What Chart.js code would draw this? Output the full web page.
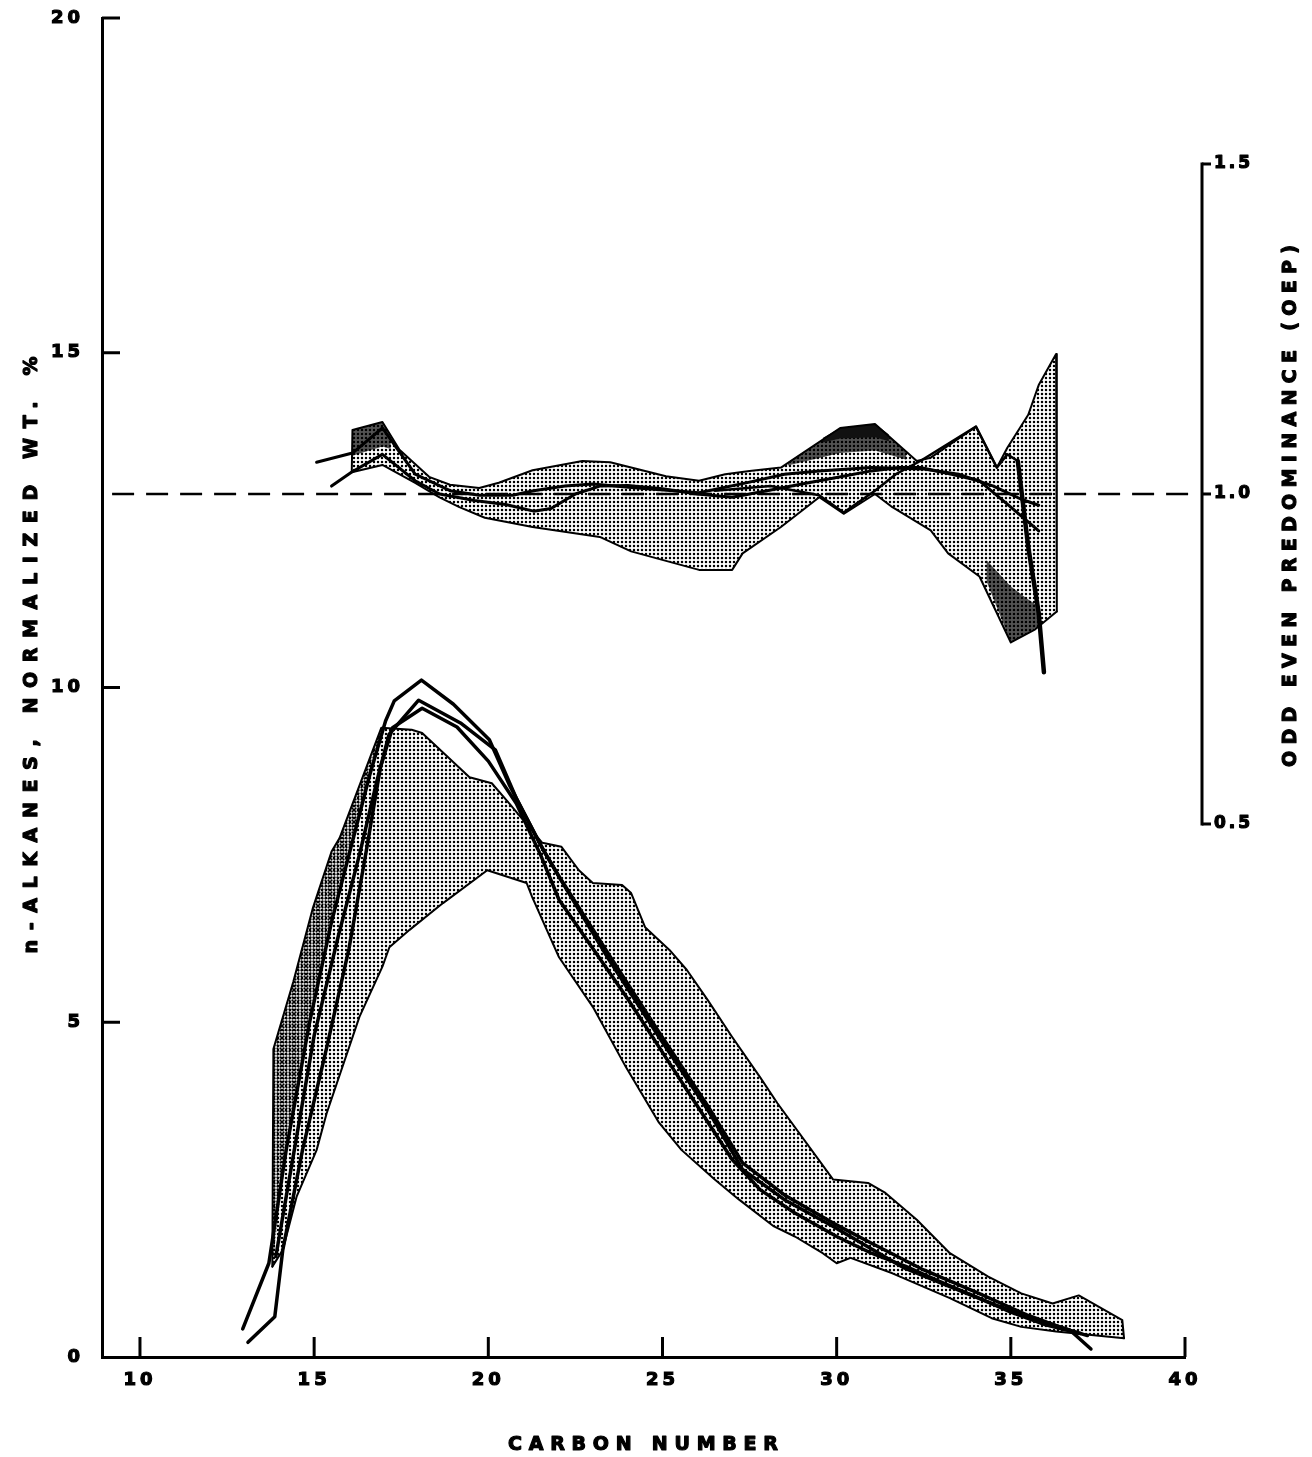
<!DOCTYPE html>
<html><head><meta charset="utf-8">
<script src="https://cdn.jsdelivr.net/npm/chart.js@4.4.1/dist/chart.umd.min.js"></script>
<style>html,body{margin:0;padding:0;background:#fff}#wrap{width:1312px;height:1457px;position:relative}</style>
</head><body><div id="wrap"><canvas id="c"></canvas></div>
<script>
// ---------- tick labels / axes ----------
const xTicks = [10, 15, 20, 25, 30, 35, 40];
const yTicks = [0, 5, 10, 15, 20];
const oepTicks = [0.5, 1.0, 1.5];
const xTitle = 'CARBON NUMBER';
const yTitle = 'n-ALKANES, NORMALIZED WT. %';
const y2Title = 'ODD EVEN PREDOMINANCE (OEP)';

// ---------- n-alkane distribution (left axis) ----------
const lowBandTopC = [13.8,13.83,14.4,14.96,15.5,15.73,16.93,17.8,18.1,19.46,20.1,20.6,21.55,22.1,22.6,23.0,23.84,24.1,24.5,25.2,25.7,26.3,27.0,27.8,28.3,29.9,30.9,31.4,32.3,33.25,34.35,35.3,36.2,36.95,38.2,38.25];
const lowBandTopV = [1.35,4.6,5.6,6.7,7.55,7.75,9.4,9.37,9.32,8.66,8.57,8.27,7.68,7.62,7.27,7.08,7.05,6.93,6.42,6.08,5.78,5.33,4.78,4.18,3.79,2.65,2.6,2.45,2.05,1.55,1.2,0.95,0.8,0.92,0.55,0.28];
const lowBandBotC = [13.8,14.1,14.5,15.07,15.36,16.3,16.96,17.16,17.74,18.7,19.97,21.1,21.26,22.03,23.0,23.95,24.9,25.55,26.5,27.2,28.2,28.8,29.6,30.0,30.4,31.6,33.25,34.45,35.3,36.3,38.25];
const lowBandBotV = [1.35,1.6,2.4,3.09,3.64,5.08,5.83,6.12,6.38,6.78,7.27,7.08,6.87,5.97,5.23,4.33,3.5,3.09,2.65,2.35,1.95,1.8,1.55,1.4,1.48,1.25,0.88,0.58,0.45,0.38,0.28];
const lowDarkTopC = [13.8,13.83,14.4,14.96,15.5,15.73,16.93];
const lowDarkTopV = [1.35,4.6,5.6,6.7,7.55,7.75,9.4];
const lowDarkBotC = [13.8,14.2,14.87,15.5,16.0,16.6,16.93];
const lowDarkBotV = [1.35,3.1,5.0,6.5,7.5,8.7,9.3];

const lineAC = [12.95,13.7,14.2,14.87,15.5,16.0,16.6,17.05,17.3,18.08,19.0,20.03,20.6,21.5,22.03,23.47,24.9,26.3,27.3,28.5,29.9,31.9,33.25,34.55,35.8,36.7,37.3];
const lineAV = [0.42,1.4,3.1,5.0,6.5,7.5,8.7,9.5,9.8,10.11,9.75,9.22,8.55,7.65,7.17,5.93,4.78,3.69,2.8,2.35,1.95,1.34,1.05,0.78,0.55,0.4,0.12];
const lineBC = [13.1,13.87,14.1,14.67,15.35,16.0,16.5,16.9,17.25,18.1,19.1,20.0,20.8,21.5,22.03,23.0,24.0,25.0,26.0,27.0,27.8,28.8,30.0,31.0,32.0,33.0,34.0,35.0,36.0,37.0];
const lineBV = [0.22,0.6,1.6,3.1,4.6,6.1,7.57,8.8,9.4,9.69,9.41,8.9,8.27,7.5,6.83,6.1,5.35,4.55,3.75,2.95,2.5,2.15,1.8,1.55,1.35,1.12,0.9,0.67,0.48,0.35];
const lineCC = [13.9,14.4,15.0,15.7,16.3,16.8,17.15,18.0,19.2,20.2,20.8,21.6,22.1,23.5,24.9,26.3,27.3,28.5,29.9,31.0,32.5,34.0,35.5,36.5,37.2];
const lineCV = [1.5,3.0,4.8,6.3,7.5,8.6,9.3,9.81,9.47,9.07,8.35,7.55,7.12,5.98,4.85,3.75,2.9,2.42,2.0,1.7,1.3,0.97,0.62,0.43,0.32];

// ---------- odd-even predominance (right axis) ----------
const oepRefC = [9.2, 40.3];
const oepRefV = [1.0, 1.0];
const oepBandTopC = [16.08,16.1,16.96,17.45,18.3,18.9,19.74,20.3,21.27,22.7,23.5,25.1,26.05,26.8,27.5,28.4,30.1,31.1,32.3,32.7,34.0,34.6,34.9,35.5,35.8,36.3,36.32];
const oepBandTopV = [1.033,1.097,1.109,1.067,1.026,1.014,1.009,1.017,1.036,1.05,1.048,1.027,1.02,1.03,1.035,1.04,1.1,1.106,1.05,1.055,1.102,1.04,1.07,1.12,1.165,1.212,0.822];
const oepBandBotC = [16.08,16.96,17.9,18.6,19.17,19.9,21.27,23.2,24.1,26.05,27.0,27.3,28.4,29.5,30.2,31.1,31.6,32.7,33.2,34.1,35.0,35.7,36.32];
const oepBandBotV = [1.033,1.044,1.017,0.995,0.98,0.964,0.95,0.935,0.913,0.885,0.885,0.91,0.95,0.995,0.97,1.0,0.98,0.945,0.91,0.875,0.775,0.795,0.822];
const oepDark1TopC = [16.1,16.96,17.2];
const oepDark1TopV = [1.097,1.109,1.09];
const oepDark1BotC = [16.1,16.96,17.2];
const oepDark1BotV = [1.058,1.072,1.068];
const oepDark2TopC = [28.6,30.1,31.1,32.0];
const oepDark2TopV = [1.048,1.1,1.106,1.063];
const oepDark2BotC = [28.6,30.1,31.1,32.0];
const oepDark2BotV = [1.043,1.062,1.066,1.052];
const oepCoreTopC = [29.6,30.1,31.1,31.5];
const oepCoreTopV = [1.085,1.1,1.106,1.09];
const oepCoreBotC = [29.6,30.1,31.1,31.5];
const oepCoreBotV = [1.078,1.084,1.086,1.08];
const oepDark3TopC = [34.3,35.0,35.5,35.8];
const oepDark3TopV = [0.9,0.86,0.84,0.83];
const oepDark3BotC = [34.3,35.0,35.5,35.8];
const oepDark3BotV = [0.868,0.775,0.79,0.80];
const oepLine1C = [15.07,16.1,16.96,17.9,18.9,19.74,20.7,21.3,22.2,23.0,24.1,26.05,27.5,28.5,29.5,31.0,32.5,33.5,34.5,35.3,35.8];
const oepLine1V = [1.048,1.062,1.1,1.03,1.005,0.998,0.998,1.005,1.012,1.015,1.01,1.002,1.018,1.03,1.035,1.04,1.038,1.03,1.012,0.992,0.983];
const oepLine2C = [15.5,16.07,16.96,17.9,18.6,19.6,20.5,21.3,21.8,22.5,23.2,24.0,25.0,26.0,27.0,28.0,29.0,30.0,31.0,31.8,32.4,33.3,34.1,35.0,35.8];
const oepLine2V = [1.012,1.033,1.06,1.02,1.0,0.99,0.984,0.974,0.978,1.0,1.012,1.013,1.008,1.0,0.995,1.005,1.015,1.025,1.035,1.04,1.04,1.03,1.02,0.98,0.944];
const oepLine3C = [26.5,28.1,29.5,30.2,31.1,31.7,32.4,34.0,34.6,34.9,35.2];
const oepLine3V = [1.005,1.012,0.998,0.972,1.005,1.03,1.05,1.102,1.04,1.06,1.05];
const oepLine4C = [35.2,35.5,35.8,35.95];
const oepLine4V = [1.05,0.92,0.82,0.73];

// ---------- helpers ----------
const pts = (cs, vs) => cs.map((c, i) => ({x: c, y: vs[i]}));
const canvas = document.getElementById('c');
function dotPattern(period, r) {
  const c = document.createElement('canvas');
  c.width = c.height = period;
  const g = c.getContext('2d');
  g.fillStyle = '#000';
  g.beginPath(); g.arc(period / 2, period / 2, r, 0, Math.PI * 2); g.fill();
  return canvas.getContext('2d').createPattern(c, 'repeat');
}
const lightDots = dotPattern(4, 1.25);
const darkDots = dotPattern(3, 1.15);
const blackDots = dotPattern(2, 0.9);

function line(data, axis, width, extra) {
  return Object.assign({data, yAxisID: axis, borderColor: '#000', borderWidth: width,
    pointRadius: 0, tension: 0, fill: false, borderJoinStyle: 'round', borderCapStyle: 'round'}, extra || {});
}

const datasets = [
  line(pts(lineAC, lineAV), 'y', 3.5),                                    //0
  line(pts(lineBC, lineBV), 'y', 3.5),                                    //1
  line(pts(lineCC, lineCV), 'y', 3.5),                                    //2
  line(pts(oepLine1C, oepLine1V), 'y2', 3),                               //3
  line(pts(oepLine2C, oepLine2V), 'y2', 3),                               //4
  line(pts(oepLine3C, oepLine3V), 'y2', 2.5),                             //5
  line(pts(oepLine4C, oepLine4V), 'y2', 4.5),                             //6
  line(pts(oepRefC, oepRefV), 'y2', 2.5, {borderDash: [22, 12], borderCapStyle: 'butt', clip: false}), //7
  line(pts(oepCoreTopC, oepCoreTopV), 'y2', 0, {fill: {target: 9}, backgroundColor: '#111'}),          //8
  line(pts(oepCoreBotC, oepCoreBotV), 'y2', 0),                                                        //9
  line(pts(oepDark1TopC, oepDark1TopV), 'y2', 0, {fill: {target: 11}, backgroundColor: blackDots}),    //10
  line(pts(oepDark1BotC, oepDark1BotV), 'y2', 0),                                                      //11
  line(pts(oepDark2TopC, oepDark2TopV), 'y2', 0, {fill: {target: 13}, backgroundColor: blackDots}),    //12
  line(pts(oepDark2BotC, oepDark2BotV), 'y2', 0),                                                      //13
  line(pts(oepDark3TopC, oepDark3TopV), 'y2', 0, {fill: {target: 15}, backgroundColor: blackDots}),    //14
  line(pts(oepDark3BotC, oepDark3BotV), 'y2', 0),                                                      //15
  line(pts(oepBandTopC, oepBandTopV), 'y2', 2, {fill: {target: 17}, backgroundColor: lightDots}),      //16
  line(pts(oepBandBotC, oepBandBotV), 'y2', 2),                                                        //17
  line(pts(lowDarkTopC, lowDarkTopV), 'y', 0, {fill: {target: 19}, backgroundColor: darkDots}),        //18
  line(pts(lowDarkBotC, lowDarkBotV), 'y', 0),                                                         //19
  line(pts(lowBandTopC, lowBandTopV), 'y', 2, {fill: {target: 21}, backgroundColor: lightDots}),       //20
  line(pts(lowBandBotC, lowBandBotV), 'y', 2)                                                          //21
];

const FONT = '"DejaVu Sans", "Liberation Sans", Arial, sans-serif';

function spacedText(ctx, text, cx, cy, len, rot, font) {
  ctx.save();
  ctx.font = font;
  if ('letterSpacing' in ctx) ctx.letterSpacing = '0px';
  const w = ctx.measureText(text).width;
  const ls = (len - w) / (text.length - 1);
  ctx.translate(cx, cy); ctx.rotate(rot);
  ctx.fillStyle = '#000'; ctx.strokeStyle = '#000'; ctx.lineWidth = 1.2; ctx.lineJoin = 'round';
  ctx.textBaseline = 'middle'; ctx.textAlign = 'left';
  if ('letterSpacing' in ctx) {
    ctx.letterSpacing = ls + 'px';
    ctx.fillText(text, -len / 2, 0);
    ctx.strokeText(text, -len / 2, 0);
  } else {
    let x = -len / 2;
    for (const ch of text) { ctx.fillText(ch, x, 0); ctx.strokeText(ch, x, 0); x += ctx.measureText(ch).width + ls; }
  }
  ctx.restore();
}

const deco = {
  id: 'deco',
  beforeDraw(chart) { if ('letterSpacing' in chart.ctx) chart.ctx.letterSpacing = '4px'; },
  afterDraw(chart) {
    const {ctx, chartArea: a, scales} = chart;
    const x = scales.x, y = scales.y, y2 = scales.y2;
    ctx.save();
    if ('letterSpacing' in ctx) ctx.letterSpacing = '0px';
    ctx.strokeStyle = '#000'; ctx.lineWidth = 3; ctx.lineCap = 'butt';
    yTicks.forEach(v => {
      if (v === 0) return;
      const py = y.getPixelForValue(v);
      ctx.beginPath(); ctx.moveTo(a.left, py); ctx.lineTo(a.left + 18, py); ctx.stroke();
    });
    xTicks.forEach(v => {
      const px = x.getPixelForValue(v);
      ctx.beginPath(); ctx.moveTo(px, a.bottom); ctx.lineTo(px, a.bottom - 20); ctx.stroke();
    });
    // right OEP axis
    const rx = a.right + 17;
    const t = y2.getPixelForValue(oepTicks[oepTicks.length - 1]);
    const b = y2.getPixelForValue(oepTicks[0]);
    ctx.beginPath(); ctx.moveTo(rx, t - 1.5); ctx.lineTo(rx, b + 1.5); ctx.stroke();
    oepTicks.forEach(v => {
      const py = y2.getPixelForValue(v);
      ctx.beginPath(); ctx.moveTo(rx, py); ctx.lineTo(rx + 9, py); ctx.stroke();
    });
    ctx.font = 'bold 17px ' + FONT;
    ctx.fillStyle = '#000'; ctx.textAlign = 'left'; ctx.textBaseline = 'middle';
    ctx.lineWidth = 1.2; ctx.lineJoin = 'round';
    if ('letterSpacing' in ctx) ctx.letterSpacing = '3px';
    oepTicks.forEach(v => {
      const py = y2.getPixelForValue(v);
      ctx.fillText(v.toFixed(1), rx + 12, py);
      ctx.strokeText(v.toFixed(1), rx + 12, py);
    });
    ctx.restore();
    spacedText(ctx, yTitle, 32, 655, 597, -Math.PI / 2, 'bold 19px ' + FONT);
    spacedText(ctx, y2Title, 1291, 506, 522, -Math.PI / 2, 'bold 19px ' + FONT);
    spacedText(ctx, xTitle, 643, 1445, 270, 0, 'bold 19px ' + FONT);
  }
};

const tickFont = {family: FONT, weight: 'bold', size: 18};

new Chart(canvas, {
  type: 'line',
  data: {datasets},
  plugins: [deco],
  options: {
    responsive: true, maintainAspectRatio: false, animation: false,
    layout: {padding: {left: 0, right: 127, top: 18, bottom: 0}},
    plugins: {legend: {display: false}, tooltip: {enabled: false}, filler: {drawTime: 'beforeDatasetsDraw'}},
    scales: {
      x: {
        type: 'linear', min: 8.91, max: 40,
        afterBuildTicks: s => { s.ticks = xTicks.map(v => ({value: v})); },
        afterFit: s => { s.height = 100; s.paddingLeft = 0; s.paddingRight = 0; },
        grid: {display: false, drawTicks: false},
        border: {display: true, color: '#000', width: 3},
        ticks: {color: '#000', padding: 13, font: tickFont, maxRotation: 0, autoSkip: false,
                textStrokeColor: '#000', textStrokeWidth: 1.2}
      },
      y: {
        type: 'linear', position: 'left', min: 0, max: 20,
        afterBuildTicks: s => { s.ticks = yTicks.map(v => ({value: v})); },
        afterFit: s => { s.width = 102; s.paddingTop = 0; s.paddingBottom = 0; },
        grid: {display: false, drawTicks: false},
        border: {display: true, color: '#000', width: 3},
        ticks: {color: '#000', padding: 18, font: tickFont, textStrokeColor: '#000', textStrokeWidth: 1.2}
      },
      y2: {
        type: 'linear', position: 'right', display: false,
        min: -0.3076, max: 1.7212,
        afterFit: s => { s.width = 0; s.paddingTop = 0; s.paddingBottom = 0; }
      }
    }
  }
});
</script>
</body></html>
